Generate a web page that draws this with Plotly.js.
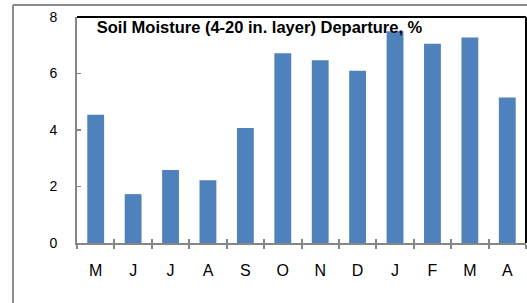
<!DOCTYPE html>
<html>
<head>
<meta charset="utf-8">
<script src="https://cdn.plot.ly/plotly-3.0.1.min.js"></script>
<style>html,body{margin:0;padding:0;background:#fff;}#chart{width:527px;height:303px;}</style>
</head>
<body>
<div id="chart"></div>
<script>
const months = ["M","J","J ","A","S","O","N","D","J  ","F","M ","A "];
const monthLabels = ["M","J","J","A","S","O","N","D","J","F","M","A"];
const departure = [4.54, 1.73, 2.58, 2.22, 4.07, 6.72, 6.47, 6.10, 7.50, 7.05, 7.27, 5.15];
const yTicks = [0, 2, 4, 6, 8];
const titleText = "Soil Moisture (4-20 in. layer) Departure, %";

const axisGray = "#868686";
const fontFam = "Liberation Sans, Arial, sans-serif";

const data = [{
  type: "bar",
  x: months,
  y: departure,
  marker: {color: "#4F81BD", line: {width: 0}},
  hoverinfo: "skip"
}, {
  type: "bar",
  x: months,
  y: departure.map(() => 0),
  xaxis: "x2",
  yaxis: "y",
  showlegend: false,
  hoverinfo: "skip",
  marker: {color: "rgba(0,0,0,0)"}
}];

const layout = {
  width: 527, height: 303,
  margin: {l: 77, r: 1, t: 17, b: 60, pad: 0},
  paper_bgcolor: "#fff", plot_bgcolor: "#fff",
  showlegend: false,
  bargap: 0.55,
  font: {family: fontFam, size: 14, color: "#000"},
  title: {
    text: "<b>" + titleText + "</b>",
    font: {family: fontFam, size: 16.5, color: "#000"},
    x: 0.044, xref: "paper", xanchor: "left",
    y: 1 - 27/303, yref: "container", yanchor: "middle"
  },
  xaxis: {
    type: "category",
    tickvals: months, ticktext: monthLabels,
    showline: true, linecolor: axisGray, linewidth: 2,
    ticks: "outside", tickson: "boundaries", ticklen: 4, tickwidth: 2, tickcolor: axisGray,
    ticklabelstandoff: 12,
    showgrid: false, zeroline: false, fixedrange: true,
    tickfont: {family: fontFam, size: 16, color: "#000"}
  },
  xaxis2: {
    type: "category", overlaying: "x", matches: "x",
    ticks: "inside", tickson: "boundaries", ticklen: 4, tickwidth: 2, tickcolor: axisGray,
    showticklabels: false, showline: false, showgrid: false, zeroline: false
  },
  yaxis: {
    range: [0, 8], tickvals: yTicks,
    showline: true, linecolor: axisGray, linewidth: 2,
    ticks: "inside", ticklen: 4, tickwidth: 1.5, tickcolor: axisGray,
    ticklabelstandoff: 15,
    showgrid: false, zeroline: false, fixedrange: true,
    tickfont: {family: fontFam, size: 14, color: "#000"}
  },
  shapes: [
    {type: "line", xref: "paper", yref: "paper", x0: 0, x1: 1, y0: 1, y1: 1, line: {color: "#000", width: 2}},
    {type: "line", xref: "paper", yref: "paper", x0: 1, x1: 1, y0: 0, y1: 1, line: {color: "#000", width: 2}},
    {type: "line", xref: "paper", yref: "paper", x0: (13-77)/449, x1: 1.01, y0: (243-5)/226, y1: (243-5)/226, line: {color: "#8c8c8c", width: 2}},
    {type: "line", xref: "paper", yref: "paper", x0: (13-77)/449, x1: (13-77)/449, y0: (243-5)/226, y1: -0.4, line: {color: "#8c8c8c", width: 2}}
  ]
};

Plotly.newPlot("chart", data, layout, {staticPlot: true, displayModeBar: false});
</script>
</body>
</html>
